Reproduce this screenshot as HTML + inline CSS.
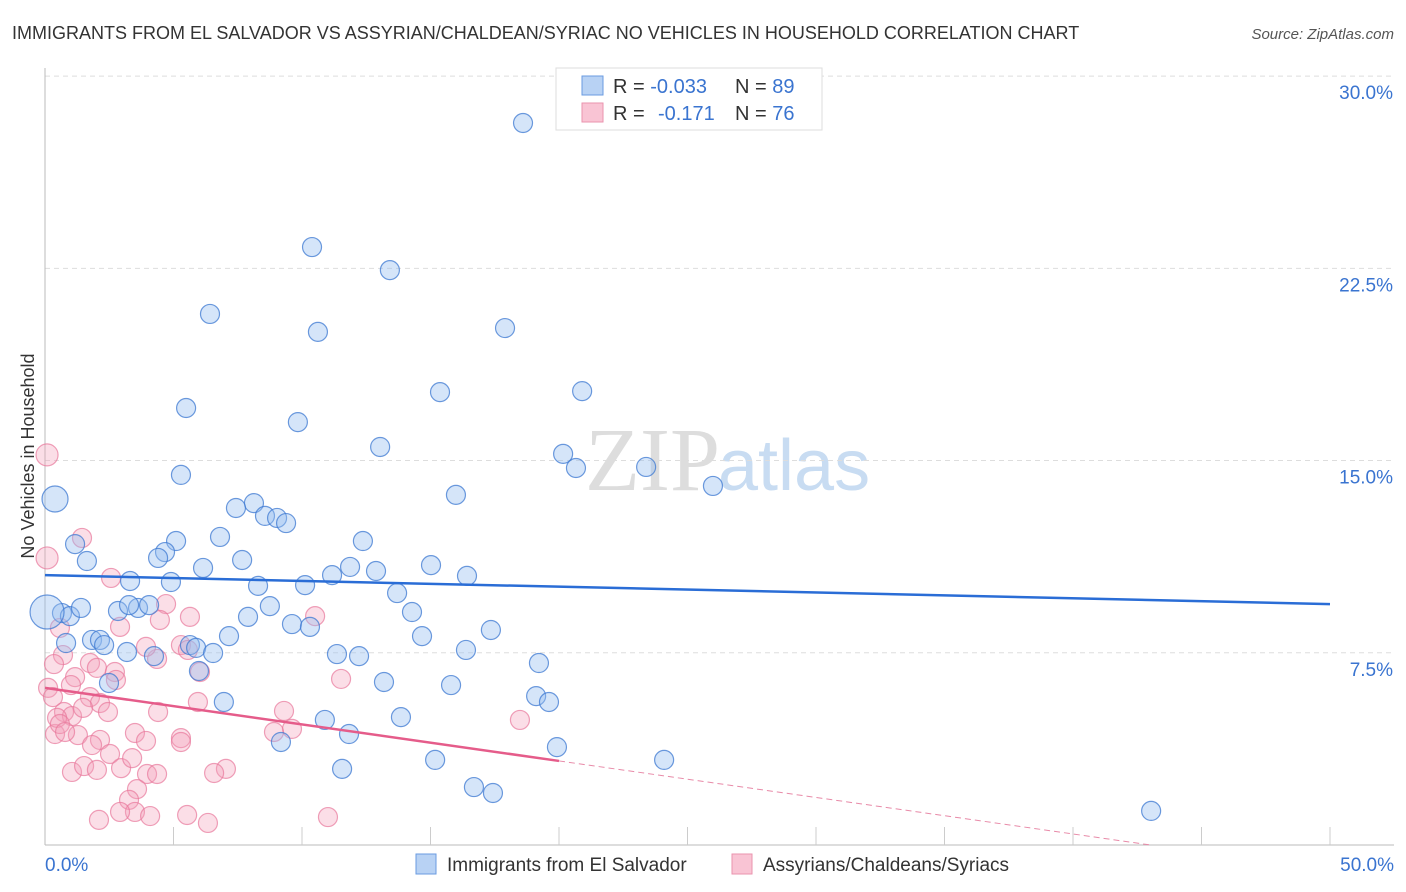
<!DOCTYPE html>
<html><head><meta charset="utf-8"><style>
body{margin:0;background:#fff;font-family:"Liberation Sans",sans-serif;}
#wrap{position:relative;width:1406px;height:892px;overflow:hidden;}
</style></head><body>
<div id="wrap">
<svg id="svg" width="1406" height="892" xmlns="http://www.w3.org/2000/svg">
<text x="12" y="39" font-size="18" fill="#333">IMMIGRANTS FROM EL SALVADOR VS ASSYRIAN/CHALDEAN/SYRIAC NO VEHICLES IN HOUSEHOLD CORRELATION CHART</text>
<text x="1394" y="39" font-size="15" fill="#555" font-style="italic" text-anchor="end">Source: ZipAtlas.com</text>
<text x="720" y="490" font-size="90" fill="#ddd" font-family="Liberation Serif" text-anchor="end">ZIP</text>
<text x="718" y="490" font-size="72" fill="#c8dcf2">atlas</text>
<text transform="translate(34,456) rotate(-90)" font-size="18" fill="#333" text-anchor="middle">No Vehicles in Household</text>
<g id="grid"></g><g id="pts"></g><g id="lines"></g>
<g>
<rect x="556" y="68" width="266" height="62" fill="#fff" stroke="#ddd"/>
<rect x="582" y="76" width="21" height="19" fill="#b8d2f4" stroke="#6a9be0"/>
<rect x="582" y="103" width="21" height="19" fill="#f9c4d4" stroke="#ea93ae"/>
<text x="613" y="93" font-size="20" fill="#333">R = <tspan fill="#3a74d0">-0.033</tspan><tspan x="735">N = </tspan><tspan fill="#3a74d0">89</tspan></text>
<text x="613" y="120" font-size="20" fill="#333">R = <tspan x="658" fill="#3a74d0">-0.171</tspan><tspan x="735">N = </tspan><tspan fill="#3a74d0">76</tspan></text>
</g>
<g>
<rect x="416" y="854" width="20" height="20" fill="#b8d2f4" stroke="#6a9be0"/>
<text x="447" y="871" font-size="19" fill="#333">Immigrants from El Salvador</text>
<rect x="732" y="854" width="20" height="20" fill="#f9c4d4" stroke="#ea93ae"/>
<text x="763" y="871" font-size="19" fill="#333">Assyrians/Chaldeans/Syriacs</text>
</g>
</svg></div>
<script>
const yTicks=[7.5,15,22.5,30];
const yTickLabels=["7.5%","15.0%","22.5%","30.0%"];
const xTickLabels=["0.0%","50.0%"];
const blueX=[18.6,10.39,13.42,6.42,10.62,17.9,20.9,15.37,5.49,9.84,13.04,20.16,20.66,23.39,5.29,25.99,15.99,8.13,7.43,8.56,9.03,9.38,6.81,1.17,5.1,12.37,4.67,4.4,7.67,1.63,15.02,11.87,12.88,6.15,11.17,16.42,3.31,4.9,8.29,10.12,13.7,0.66,0.97,1.4,2.84,3.62,4.05,3.27,8.75,14.28,7.9,9.61,10.31,17.35,14.67,7.16,0.82,1.83,2.14,2.3,5.64,5.88,3.19,4.24,6.54,11.36,12.22,16.38,19.22,5.99,2.49,13.19,15.8,19.11,19.61,6.96,13.85,10.89,11.83,9.18,19.92,15.18,24.09,11.56,16.69,17.43,43.04,0.39,0.08];
const blueY=[28.17,23.33,22.43,20.72,20.02,20.17,17.71,17.67,17.05,16.5,15.53,15.26,14.71,14.75,14.44,14.01,13.66,13.34,13.15,12.84,12.76,12.56,12.02,11.74,11.86,11.86,11.43,11.2,11.12,11.08,10.92,10.85,10.69,10.81,10.53,10.5,10.3,10.26,10.11,10.14,9.83,9.05,8.93,9.25,9.13,9.25,9.36,9.36,9.32,9.09,8.9,8.62,8.51,8.39,8.15,8.15,7.88,8.0,8.0,7.8,7.8,7.69,7.53,7.37,7.49,7.45,7.37,7.61,7.1,6.79,6.32,6.36,6.24,5.81,5.58,5.58,4.99,4.88,4.33,4.02,3.82,3.32,3.32,2.97,2.26,2.03,1.33,13.5,9.09];
const blueR=[];blueX.forEach((v,i)=>blueR.push(i>=blueX.length-2?(i==blueX.length-1?17:13):9.5));
const pinkX=[0.08,0.08,1.44,2.57,2.92,4.71,5.64,10.51,4.36,5.29,3.93,5.56,0.58,0.7,1.75,2.02,2.72,0.35,1.17,0.12,0.31,0.74,1.05,0.39,1.28,1.75,2.14,1.48,2.45,2.76,1.01,6.03,11.52,5.95,4.4,9.3,9.61,8.91,5.29,5.29,3.5,3.93,2.14,2.53,2.96,3.39,3.97,4.36,3.58,3.27,3.5,1.05,1.52,2.02,1.83,4.09,2.92,2.1,5.53,6.34,7.04,6.58,11.01,18.48,0.47,0.58,0.78,4.47];
const pinkY=[15.22,11.2,11.98,10.42,8.51,9.4,8.9,8.93,7.26,7.8,7.73,7.61,8.47,7.41,7.1,6.91,6.75,7.06,6.55,6.13,5.77,5.19,5.03,4.33,4.29,5.77,5.54,5.35,5.19,6.44,6.24,6.75,6.48,5.58,5.19,5.23,4.53,4.41,4.17,4.02,4.37,4.06,4.1,3.55,3.0,3.39,2.77,2.77,2.18,1.76,1.29,2.85,3.08,2.93,3.9,1.13,1.29,0.98,1.17,0.86,2.97,2.81,1.09,4.88,4.96,4.72,4.41,8.78];
const blueTrend=[10.53,9.4];
const pinkTrend=[6.13,-0.1425];
const X=v=>45+v*25.7, Y=v=>845-v*25.63;
const NS="http://www.w3.org/2000/svg";
function mk(t,a,p){const e=document.createElementNS(NS,t);for(const k in a)e.setAttribute(k,a[k]);p.appendChild(e);return e;}
const grid=document.getElementById('grid');
yTicks.forEach((t,i)=>{
 const l=mk('line',{x1:45,x2:1394,y1:Y(t),y2:Y(t),stroke:'#ddd','stroke-dasharray':'5,4'},grid);
 
 
 const tx=mk('text',{x:1393,y:Y(t)+23,'font-size':19,fill:'#3a74d0','text-anchor':'end'},grid);
 tx.textContent=yTickLabels[i];
 
 
});
mk('line',{x1:45,x2:45,y1:68,y2:845,stroke:'#bbb'},grid);
mk('line',{x1:45,x2:1394,y1:845,y2:845,stroke:'#bbb'},grid);
for(let v=5;v<=50;v+=5){const t=mk('line',{x1:X(v),x2:X(v),y1:827,y2:845,stroke:'#ccc'},grid);}
[[0,'start',45],[50,'end',1394]].forEach((a,i)=>{const t=mk('text',{x:a[2],y:871,'font-size':19,fill:'#3a74d0','text-anchor':a[1]},grid);t.textContent=xTickLabels[i];});
const pts=document.getElementById('pts');
pinkX.forEach((v,i)=>{const c=mk('circle',{cx:X(v),cy:Y(pinkY[i]),r:(i<2?11:9.5),fill:'rgba(244,160,185,0.35)',stroke:'rgba(232,120,155,0.7)','stroke-width':1.2},pts);
 
 });
blueX.forEach((v,i)=>{const c=mk('circle',{cx:X(v),cy:Y(blueY[i]),r:blueR[i],fill:'rgba(150,190,240,0.4)',stroke:'rgba(60,120,210,0.75)','stroke-width':1.2},pts);
 
 });
const ln=document.getElementById('lines');
const bl=mk('line',{x1:X(0),y1:Y(blueTrend[0]),x2:X(50),y2:Y(blueTrend[1]),stroke:'#2a6dd6','stroke-width':2.5},ln);


const pz=-pinkTrend[0]/pinkTrend[1];
const pl=mk('line',{x1:X(0),y1:Y(pinkTrend[0]),x2:X(20),y2:Y(pinkTrend[0]+pinkTrend[1]*20),stroke:'#e55c8a','stroke-width':2.5},ln);


const pd=mk('line',{x1:X(20),y1:Y(pinkTrend[0]+pinkTrend[1]*20),x2:X(pz),y2:Y(0),stroke:'#e88aa8','stroke-width':1,'stroke-dasharray':'6,4'},ln);


</script>
</body></html>
